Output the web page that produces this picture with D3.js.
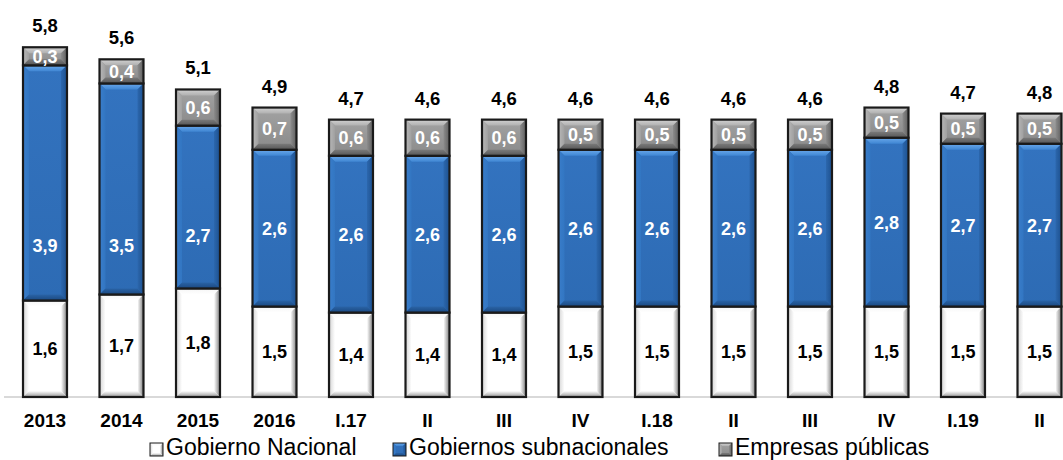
<!DOCTYPE html>
<html>
<head>
<meta charset="utf-8">
<script src="https://cdn.jsdelivr.net/npm/d3@7"></script>
<style>
  html, body { margin: 0; padding: 0; background: #ffffff; }
  svg { display: block; font-family: "Liberation Sans", Arial, sans-serif; }
</style>
</head>
<body>
<svg id="chart" width="1063" height="460"></svg>
<script>
// Periods on the horizontal axis (annual, then quarterly)
const periods = ["2013", "2014", "2015", "2016", "I.17", "II", "III", "IV", "I.18", "II", "III", "IV", "I.19", "II"];

// Stacked components, % of GDP
const gobiernoNacional = [1.6, 1.7, 1.8, 1.5, 1.4, 1.4, 1.4, 1.5, 1.5, 1.5, 1.5, 1.5, 1.5, 1.5];
const gobiernosSubnacionales = [3.9, 3.5, 2.7, 2.6, 2.6, 2.6, 2.6, 2.6, 2.6, 2.6, 2.6, 2.8, 2.7, 2.7];
const empresasPublicas = [0.3, 0.4, 0.6, 0.7, 0.6, 0.6, 0.6, 0.5, 0.5, 0.5, 0.5, 0.5, 0.5, 0.5];

// Published totals shown above each column
const totales = [5.8, 5.6, 5.1, 4.9, 4.7, 4.6, 4.6, 4.6, 4.6, 4.6, 4.6, 4.8, 4.7, 4.8];

const seriesNames = ["Gobierno Nacional", "Gobiernos subnacionales", "Empresas públicas"];
const seriesValues = [gobiernoNacional, gobiernosSubnacionales, empresasPublicas];

// On the annual columns the subnational label sits low in the tall segment
const subLabelAnchor = { 0: 2.52, 1: 2.52, 2: 2.67 };

const svg = d3.select("#chart");
const fmt = v => v.toFixed(1).replace(".", ",");

const x = d3.scaleBand()
  .domain(d3.range(periods.length))
  .range([6.75, 1077.75])
  .paddingInner(0.425)
  .paddingOuter(0.2125);

const y = d3.scaleLinear().domain([0, 6]).range([397, 35.2]);

// Bevel palettes per series: body, top, left, right, bottom
const palettes = [
  { body: ["#ffffff", "#ffffff"], top: ["#f5f5f5", "#ffffff"], left: ["#d4d4d4", "#ffffff"], right: ["#ffffff", "#7e7e7e"], bottom: ["#ffffff", "#959595"], text: "#000000" },
  { body: ["#3373bf", "#2d6bb4"], top: ["#6aa8ea", "#3f86d3"], left: ["#3a7dca", "#3276c2"], right: ["#2c67ad", "#1c508f"], bottom: ["#2a63a6", "#1a4880"], text: "#ffffff" },
  { body: ["#a3a3a3", "#8a8a8a"], top: ["#d2d2d2", "#b0b0b0"], left: ["#b8b8b8", "#a0a0a0"], right: ["#8c8c8c", "#5e5e5e"], bottom: ["#7a7a7a", "#555555"], text: "#ffffff" }
];

const defs = svg.append("defs");
const grad = (id, c0, c1, dir) => {
  // dir: "v" top->bottom, "h" left->right
  const g = defs.append("linearGradient").attr("id", id)
    .attr("x1", 0).attr("y1", 0)
    .attr("x2", dir === "h" ? 1 : 0).attr("y2", dir === "h" ? 0 : 1);
  g.append("stop").attr("offset", "0%").attr("stop-color", c0);
  g.append("stop").attr("offset", "100%").attr("stop-color", c1);
};
palettes.forEach((p, i) => {
  grad(`body${i}`, p.body[0], p.body[1], "v");
  grad(`top${i}`, p.top[0], p.top[1], "v");
  grad(`left${i}`, p.left[0], p.left[1], "h");
  grad(`right${i}`, p.right[0], p.right[1], "h");
  grad(`bottom${i}`, p.bottom[0], p.bottom[1], "v");
});

// Draws a bevelled box between (x0,y0) and (x1,y1)
function bevelBox(g, x0, y0, x1, y1, si, bevel, strokeW) {
  const h = y1 - y0;
  const b = Math.min(bevel, h / 3, (x1 - x0) / 3);
  const pts = a => a.map(p => p.join(",")).join(" ");
  g.append("rect").attr("x", x0).attr("y", y0).attr("width", x1 - x0).attr("height", h)
    .attr("fill", `url(#body${si})`);
  g.append("polygon").attr("points", pts([[x0, y0], [x1, y0], [x1 - b, y0 + b], [x0 + b, y0 + b]]))
    .attr("fill", `url(#top${si})`);
  g.append("polygon").attr("points", pts([[x0, y0], [x0 + b, y0 + b], [x0 + b, y1 - b], [x0, y1]]))
    .attr("fill", `url(#left${si})`);
  g.append("polygon").attr("points", pts([[x1, y0], [x1, y1], [x1 - b, y1 - b], [x1 - b, y0 + b]]))
    .attr("fill", `url(#right${si})`);
  g.append("polygon").attr("points", pts([[x0, y1], [x0 + b, y1 - b], [x1 - b, y1 - b], [x1, y1]]))
    .attr("fill", `url(#bottom${si})`);
  g.append("rect").attr("x", x0).attr("y", y0).attr("width", x1 - x0).attr("height", h)
    .attr("fill", "none").attr("stroke", "#1a1a1a").attr("stroke-width", strokeW);
}

// Baseline
svg.append("line")
  .attr("x1", 4).attr("x2", 1063)
  .attr("y1", y(0)).attr("y2", y(0))
  .attr("stroke", "#d9d9d9").attr("stroke-width", 2);

// Stacked columns
const stackData = periods.map((p, i) => ({ i, s0: gobiernoNacional[i], s1: gobiernosSubnacionales[i], s2: empresasPublicas[i] }));
const stacked = d3.stack().keys(["s0", "s1", "s2"])(stackData);

const barsG = svg.append("g");
stacked.forEach((layer, si) => {
  layer.forEach((d, i) => {
    const x0 = x(i), x1 = x(i) + x.bandwidth();
    const yTop = y(d[1]), yBot = y(d[0]);
    bevelBox(barsG.append("g"), x0, yTop, x1, yBot, si, 6, 2.2);
  });
});

// Segment labels
const labelsG = svg.append("g")
  .attr("font-weight", "bold").attr("font-size", 18).attr("text-anchor", "middle");
stacked.forEach((layer, si) => {
  layer.forEach((d, i) => {
    let mid = (d[0] + d[1]) / 2;
    if (si === 1 && subLabelAnchor[i] !== undefined) mid = subLabelAnchor[i];
    labelsG.append("text")
      .attr("x", x(i) + x.bandwidth() / 2)
      .attr("y", y(mid))
      .attr("dy", "0.36em")
      .attr("fill", palettes[si].text)
      .text(fmt(seriesValues[si][i]));
  });
});

// Totals above the columns
svg.append("g")
  .attr("font-weight", "bold").attr("font-size", 18.5).attr("text-anchor", "middle")
  .selectAll("text").data(totales).join("text")
  .attr("x", (d, i) => x(i) + x.bandwidth() / 2)
  .attr("y", (d, i) => y(stacked[2][i][1]) - 15)
  .attr("fill", "#000")
  .text(d => fmt(d));

// Category axis
const xAxis = d3.axisBottom(x).tickSize(0).tickPadding(0).tickFormat(i => periods[i]);
const axisG = svg.append("g").attr("transform", `translate(0,${y(0)})`).call(xAxis);
axisG.select(".domain").remove();
axisG.selectAll("text")
  .attr("y", 30).attr("dy", 0)
  .attr("font-family", "\"Liberation Sans\", Arial, sans-serif")
  .attr("font-size", 19).attr("font-weight", "bold").attr("fill", "#000");

// Legend: one swatch + label per series, laid out in a single row
const legendStarts = [150, 393, 719];
const legend = svg.append("g");
seriesNames.forEach((name, si) => {
  const lx = legendStarts[si];
  const item = legend.append("g");
  bevelBox(item, lx, 443, lx + 13, 456, si, 3, 1);
  item.append("text")
    .attr("x", lx + 16).attr("y", 455)
    .attr("font-size", 23).attr("fill", "#000")
    .text(name);
});
</script>
</body>
</html>
